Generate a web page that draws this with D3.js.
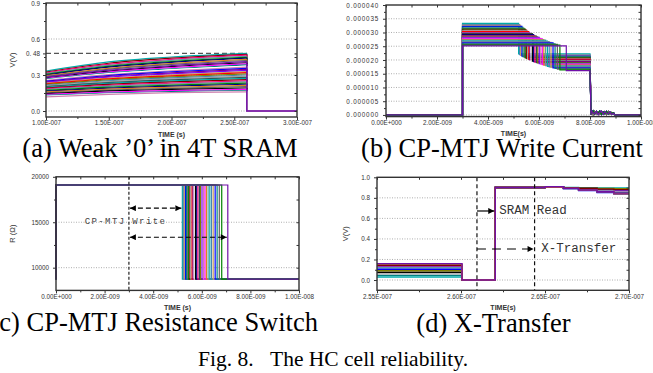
<!DOCTYPE html>
<html>
<head>
<meta charset="utf-8">
<script src="https://cdn.jsdelivr.net/npm/d3@7"></script>
<style>
  body { margin: 0; background: #fff; }
  svg { display: block; }
</style>
</head>
<body>
<div id="chart"></div>
<script>
// ---------- data ----------
const palette = ["#000000","#ff0000","#008000","#0000ff","#00aaaa","#ff00ff","#808000","#000080",
  "#800080","#800000","#008080","#4682b4","#e08020","#8000ff","#ff0080","#ffffff",
  "#a0a0a0","#606060","#c8a060","#5f9ea0","#d080b0","#2f4f4f"];
const lastColor = "#7010a8";

// (a) weak '0' : V at these times, one row per run
const weakTimes = [1.0e-7, 1.5e-7, 2.0e-7, 2.6e-7];
const weakV = [
  [0.333,0.410,0.450,0.480],[0.325,0.398,0.440,0.472],[0.318,0.388,0.430,0.465],
  [0.312,0.380,0.422,0.455],[0.305,0.372,0.412,0.447],[0.300,0.365,0.405,0.440],
  [0.294,0.356,0.396,0.430],[0.288,0.348,0.388,0.421],[0.277,0.333,0.370,0.402],
  [0.271,0.325,0.361,0.392],[0.266,0.318,0.352,0.384],[0.260,0.311,0.344,0.375],
  [0.254,0.303,0.335,0.365],[0.249,0.296,0.327,0.356],[0.243,0.289,0.318,0.347],
  [0.238,0.282,0.310,0.338],[0.232,0.274,0.301,0.328],[0.226,0.267,0.293,0.319],
  [0.221,0.260,0.285,0.310],[0.215,0.252,0.276,0.300],[0.209,0.245,0.268,0.291],
  [0.203,0.237,0.259,0.281],[0.197,0.230,0.251,0.272],[0.191,0.222,0.242,0.262],
  [0.185,0.214,0.233,0.252],[0.179,0.207,0.225,0.243],[0.172,0.199,0.216,0.233],
  [0.166,0.191,0.207,0.223],[0.159,0.183,0.198,0.213],[0.152,0.175,0.189,0.203],
  [0.145,0.167,0.180,0.192],[0.138,0.158,0.170,0.181],[0.131,0.150,0.161,0.171],
  [0.124,0.143,0.154,0.164],[0.117,0.139,0.153,0.160],[0.282,0.340,0.378,0.411]
];
const weakEnd = 3.0e-7;
const weakRef = 0.48;

// (b)/(c) CP-MTJ write, one entry per run
const writeOn = 3.0e-9, writeOff = 8.0e-9, writeStop = 1.0e-8;
const writeSwitch = [5.20,5.24,5.28,5.33,5.37,5.42,5.46,5.51,5.55,5.60,5.64,5.69,5.74,5.79,5.84,
  5.90,5.95,6.01,6.07,6.13,6.19,6.26,6.33,6.40,6.47,6.55,6.63,6.72,6.82,7.07]; // ns
const writePlateau = [33.3,32.9,32.6,32.2,31.9,31.5,31.2,30.9,30.6,30.3,30.0,29.7,29.5,29.2,28.9,
  28.7,28.4,28.2,27.9,27.7,27.4,27.2,26.9,26.7,26.4,26.2,25.9,25.7,25.4,25.1]; // uA
const writeAfter = [22.2,21.9,21.7,21.4,21.2,21.0,20.8,20.6,20.4,20.2,20.0,19.8,19.6,19.4,19.2,
  19.0,18.9,18.7,18.5,18.3,18.1,17.9,17.7,17.5,17.3,17.1,16.9,16.7,16.4,16.1]; // uA
const ringT = [8.05,8.12,8.18,8.25,8.32,8.38,8.45,8.52,8.58,8.65,8.72,8.78,8.85,8.92,8.98]; // ns
const ringV = [
  [1.2,0.2,1.4,0.5,1.1,0.3,1.3,0.6,1.0,0.2,1.2,0.4,0.9,0.3,0],
  [0.6,1.5,0.3,1.2,0.7,1.4,0.2,1.1,0.5,1.3,0.4,1.0,0.6,0.8,0],
  [1.5,0.8,0.4,1.3,0.2,0.9,1.4,0.3,1.2,0.7,0.5,1.1,0.2,0.6,0]
];
const resHigh = 19100, resLow = 8730;

// (d) X-Transfer
const xferStart = 2.55e-7, xferDrop = 2.6006e-7, xferEnd = 2.70e-7;
const xferHold = [0.030,0.150,0.045,0.135,0.060,0.120,0.075,0.105,0.090,0.140,0.155,0.160];
const xferStepT = [2.6204e-7,2.650e-7,2.661e-7,2.670e-7,2.681e-7,2.691e-7];
const xferAfter = [
  [0.900,0.905,0.900,0.898,0.897,0.896],[0.900,0.905,0.898,0.893,0.889,0.885],
  [0.900,0.905,0.896,0.888,0.881,0.875],[0.900,0.905,0.895,0.884,0.874,0.866],
  [0.900,0.905,0.894,0.880,0.868,0.858],[0.900,0.905,0.893,0.877,0.862,0.850],
  [0.900,0.905,0.891,0.873,0.856,0.842],[0.900,0.905,0.890,0.870,0.851,0.836],
  [0.900,0.905,0.899,0.895,0.892,0.890],[0.900,0.905,0.897,0.891,0.885,0.880],
  [0.900,0.905,0.892,0.875,0.859,0.840],[0.900,0.908,0.893,0.876,0.860,0.846]
];
const xferMarks = [2.6095e-7, 2.6438e-7];

// tick labels
const aXTicks = [1.0e-7,1.5e-7,2.0e-7,2.5e-7,3.0e-7];
const aXLabels = ["1.00E-007","1.50E-007","2.00E-007","2.50E-007","3.00E-007"];
const aYTicks = [0, 0.3, 0.48, 0.6, 0.9];
const aYLabels = ["0.0","0.3","0. 48","0.6","0.9"];
const bXTicks = [0,2e-9,4e-9,6e-9,8e-9,1e-8];
const bXLabels = ["0.00E+000","2.00E-009","4.00E-009","6.00E-009","8.00E-009","1.00E-008"];
const bYTicks = [0,5e-6,10e-6,15e-6,20e-6,25e-6,30e-6,35e-6,40e-6];
const bYLabels = ["0.000000","0.000005","0.000010","0.000015","0.000020","0.000025","0.000030","0.000035","0.000040"];
const cYTicks = [10000,15000,20000];
const cYLabels = ["10000","15000","20000"];
const dXTicks = [2.55e-7,2.60e-7,2.65e-7,2.70e-7];
const dXLabels = ["2.55E-007","2.60E-007","2.65E-007","2.70E-007"];
const dYTicks = [0,0.2,0.4,0.6,0.8,1.0];
const dYLabels = ["0.0","0.2","0.4","0.6","0.8","1.0"];

// ---------- drawing ----------
const W = 653, H = 373;
const svg = d3.select("#chart").append("svg").attr("width", W).attr("height", H);
const sans = "'Liberation Sans', Arial, sans-serif";
const serif = "'Liberation Serif', 'Times New Roman', serif";
const mono = "'Liberation Mono', 'Courier New', monospace";

const defs = svg.append("defs");
defs.append("marker").attr("id","head")
  .attr("viewBox","0 0 10 10").attr("refX",10).attr("refY",5)
  .attr("markerWidth",9).attr("markerHeight",6).attr("markerUnits","userSpaceOnUse")
  .attr("orient","auto-start-reverse")
  .append("path").attr("d","M0,0L10,5L0,10Z").attr("fill","#000");

function styleAxis(ax) {
  ax.select(".domain").remove();
  ax.attr("font-size", 6.3).attr("font-family", sans);
  ax.selectAll("line").attr("stroke", "#333").attr("stroke-width", 1);
  ax.selectAll("text").filter(function () { return this.textContent === ""; }).remove();
  ax.selectAll("text").attr("fill", "#333");
}

function panel(c) {
  const g = svg.append("g");
  const x = d3.scaleLinear().domain(c.xDomain).range([c.left, c.right]);
  const y = d3.scaleLinear().domain(c.yDomain).range([c.bottom, c.top]);

  g.append("g").selectAll("line").data(c.grid).join("line")
    .attr("x1", c.left).attr("x2", c.right)
    .attr("y1", d => y(d)).attr("y2", d => y(d))
    .attr("stroke", "#9a9a9a").attr("stroke-width", 0.8).attr("stroke-dasharray", "1,1.5");

  defs.append("clipPath").attr("id", "clip-" + c.name).append("rect")
    .attr("x", c.left - 1).attr("y", c.top - 1)
    .attr("width", c.right - c.left + 2).attr("height", c.bottom - c.top + 2);
  const plot = g.append("g").attr("clip-path", `url(#clip-${c.name})`);
  return { g, x, y, plot, c };
}

function axes(p) {
  const { g, x, y, c } = p;
  g.append("g").attr("transform", `translate(0,${c.bottom})`)
    .call(d3.axisBottom(x).tickValues(c.xTicks).tickFormat((d, i) => c.xLabels[i]).tickSize(3).tickPadding(1))
    .call(styleAxis);
  g.append("g").attr("transform", `translate(0,${c.bottom})`)
    .call(d3.axisBottom(x).tickValues(c.xMinor).tickFormat("").tickSize(2))
    .call(styleAxis);
  const left = g.append("g").attr("transform", `translate(${c.left},0)`)
    .call(d3.axisLeft(y).tickValues(c.yTicks).tickFormat((d, i) => c.yLabels[i]).tickSize(3).tickPadding(c.yPad || 3))
    .call(styleAxis);
  if (c.ySpacing) left.selectAll("text").attr("letter-spacing", c.ySpacing);
  g.append("g").attr("transform", `translate(${c.left},0)`)
    .call(d3.axisLeft(y).tickValues(c.yMinor).tickFormat("").tickSize(2))
    .call(styleAxis);
  g.append("g").attr("transform", `translate(0,${c.top})`)
    .call(d3.axisTop(x).tickValues(c.xTicks.concat(c.xMinor)).tickFormat("").tickSize(-2.5))
    .call(styleAxis);
  g.append("g").attr("transform", `translate(${c.right},0)`)
    .call(d3.axisRight(y).tickValues(c.yTicks.concat(c.yMinor)).tickFormat("").tickSize(-2.5))
    .call(styleAxis);
  g.append("rect")
    .attr("x", c.left).attr("y", c.top)
    .attr("width", c.right - c.left).attr("height", c.bottom - c.top)
    .attr("fill", "none").attr("stroke", "#333").attr("stroke-width", 1.4);

  g.append("text").attr("x", (c.left + c.right) / 2).attr("y", c.bottom + 19.5)
    .attr("text-anchor", "middle").attr("font-family", sans).attr("font-size", 7)
    .attr("font-weight", "bold").attr("fill", "#333").text(c.xTitle);
  if (c.yTitle) {
    g.append("text").attr("transform", `translate(${c.yTitleX},${(c.top + c.bottom) / 2}) rotate(-90)`)
      .attr("text-anchor", "middle").attr("dominant-baseline", "central")
      .attr("font-family", sans).attr("font-size", 7.5).attr("fill", "#333").text(c.yTitle);
  }
}

const color = (i, n, k) => i === n - 1 ? lastColor : palette[(i * k + 4) % palette.length];

// ---- (a) Weak '0' in 4T SRAM
const pa = panel({
  name: "a", left: 46, right: 297, top: 3, bottom: 117,
  xDomain: [1.0e-7, 3.0e-7], yDomain: [-0.05, 0.9], grid: [0, 0.3, 0.6],
  xTicks: aXTicks, xLabels: aXLabels, xMinor: [1.25e-7,1.75e-7,2.25e-7,2.75e-7],
  yTicks: aYTicks, yLabels: aYLabels, yMinor: [0.15, 0.45, 0.75],
  xTitle: "TIME (s)", yTitle: "V(V)", yTitleX: 12
});
pa.g.insert("line", "g")
  .attr("x1", pa.x(1.0e-7)).attr("x2", pa.x(weakTimes[3]))
  .attr("y1", pa.y(weakRef)).attr("y2", pa.y(weakRef))
  .attr("stroke", "#555").attr("stroke-width", 1.2).attr("stroke-dasharray", "5,3");
const riseLine = d3.line().x((d, i) => pa.x(weakTimes[i])).y(d => pa.y(d)).curve(d3.curveMonotoneX);
weakV.forEach((row, i) => {
  const col = color(i, weakV.length, 5);
  pa.plot.append("path").attr("d", riseLine(row))
    .attr("fill", "none").attr("stroke", col).attr("stroke-width", 1.2);
  pa.plot.append("path")
    .attr("d", d3.line()([[pa.x(weakTimes[3]), pa.y(row[3])], [pa.x(weakTimes[3]), pa.y(0)], [pa.x(weakEnd), pa.y(0)]]))
    .attr("fill", "none").attr("stroke", col).attr("stroke-width", 1.4);
});
axes(pa);

// ---- (b) CP-MTJ Write Current
const pb = panel({
  name: "b", left: 386, right: 641, top: 5, bottom: 116.6,
  xDomain: [0, 1e-8], yDomain: [-0.6e-6, 40e-6], grid: d3.range(0, 36e-6, 5e-6),
  xTicks: bXTicks, xLabels: bXLabels, xMinor: [1e-9,3e-9,5e-9,7e-9,9e-9],
  yTicks: bYTicks, yLabels: bYLabels, yMinor: d3.range(2.5e-6, 40e-6, 5e-6),
  yPad: 4, ySpacing: 0.8, xTitle: "TIME(s)"
});
const lineB = d3.line().x(d => pb.x(d[0])).y(d => pb.y(d[1]));
writeSwitch.forEach((ts, i) => {
  const ip = writePlateau[i] * 1e-6, ia = writeAfter[i] * 1e-6, t = ts * 1e-9;
  const ring = ringT.map((rt, k) => [rt * 1e-9, ringV[i % 3][k] * 1e-6]);
  const pts = [[0, 0], [writeOn, 0], [writeOn, ip], [t, ip], [t, ia], [writeOff, ia], [writeOff + 0.04e-9, 0]]
    .concat(ring, [[writeStop, 0]]);
  pb.plot.append("path").attr("d", lineB(pts))
    .attr("fill", "none").attr("stroke", color(i, writeSwitch.length, 7)).attr("stroke-width", 1.2);
});
axes(pb);

// ---- (c) CP-MTJ Resistance Switch
const pc = panel({
  name: "c", left: 56, right: 299, top: 176.8, bottom: 290.4,
  xDomain: [0, 1e-8], yDomain: [7500, 20000], grid: [10000, 15000],
  xTicks: bXTicks, xLabels: bXLabels, xMinor: [1e-9,3e-9,5e-9,7e-9,9e-9],
  yTicks: cYTicks, yLabels: cYLabels, yMinor: [12500, 17500],
  yPad: 4, xTitle: "TIME (s)", yTitle: "R (\u03A9)", yTitleX: 12
});
const lineC = d3.line().x(d => pc.x(d[0])).y(d => pc.y(d[1])).curve(d3.curveStepAfter);
writeSwitch.forEach((ts, i) => {
  const pts = [[0, resLow], [0, resHigh], [ts * 1e-9, resLow], [writeStop, resLow]];
  pc.plot.append("path").attr("d", lineC(pts))
    .attr("fill", "none").attr("stroke", color(i, writeSwitch.length, 7)).attr("stroke-width", 1.2);
});
pc.g.append("line")
  .attr("x1", pc.x(writeOn)).attr("x2", pc.x(writeOn)).attr("y1", pc.c.top).attr("y2", pc.c.bottom)
  .attr("stroke", "#222").attr("stroke-width", 1.2).attr("stroke-dasharray", "3,2");
[[16550, d3.min(writeSwitch)], [13350, d3.max(writeSwitch)]].forEach(([r, ts]) => {
  pc.g.append("line")
    .attr("x1", pc.x(writeOn) + 1).attr("x2", pc.x(ts * 1e-9) - 1)
    .attr("y1", pc.y(r)).attr("y2", pc.y(r))
    .attr("stroke", "#000").attr("stroke-width", 1.2).attr("stroke-dasharray", "5,3")
    .attr("marker-start", "url(#head)").attr("marker-end", "url(#head)");
});
pc.g.append("text").attr("x", pc.x(2.86e-9)).attr("y", pc.y(15000))
  .attr("text-anchor", "middle").attr("dominant-baseline", "central")
  .attr("font-family", mono).attr("font-size", 9).attr("letter-spacing", 1.4)
  .attr("fill", "#444").text("CP-MTJ Write");
axes(pc);

// ---- (d) X-Transfer
const pd = panel({
  name: "d", left: 377, right: 629, top: 177.3, bottom: 290.3,
  xDomain: [2.55e-7, 2.70e-7], yDomain: [-0.1, 1.0], grid: [0, 0.2, 0.4, 0.6, 0.8],
  xTicks: dXTicks, xLabels: dXLabels, xMinor: [2.575e-7, 2.625e-7, 2.675e-7],
  yTicks: dYTicks, yLabels: dYLabels, yMinor: [0.1, 0.3, 0.5, 0.7, 0.9],
  yPad: 4, xTitle: "TIME(s)", yTitle: "V(V)", yTitleX: 345
});
const lineD = d3.line().x(d => pd.x(d[0])).y(d => pd.y(d[1])).curve(d3.curveStepAfter);
xferHold.forEach((h, i) => {
  const after = xferAfter[i];
  const pts = [[xferStart, h], [xferDrop, 0]]
    .concat(xferStepT.map((t, k) => [t, after[k]]), [[xferEnd, after[after.length - 1]]]);
  pd.plot.append("path").attr("d", lineD(pts))
    .attr("fill", "none").attr("stroke", color(i, xferHold.length, 3)).attr("stroke-width", 1.4);
});
xferMarks.forEach(t => {
  pd.g.append("line")
    .attr("x1", pd.x(t)).attr("x2", pd.x(t)).attr("y1", pd.c.top).attr("y2", pd.c.bottom)
    .attr("stroke", "#111").attr("stroke-width", 1.2).attr("stroke-dasharray", "4,3");
});
pd.g.append("line")
  .attr("x1", pd.x(xferMarks[0])).attr("x2", pd.x(xferStepT[0]) - 1)
  .attr("y1", pd.y(0.672)).attr("y2", pd.y(0.672))
  .attr("stroke", "#000").attr("stroke-width", 1.2).attr("marker-end", "url(#head)");
pd.g.append("line")
  .attr("x1", pd.x(xferMarks[0])).attr("x2", pd.x(xferMarks[1]) - 1)
  .attr("y1", pd.y(0.302)).attr("y2", pd.y(0.302))
  .attr("stroke", "#000").attr("stroke-width", 1.2).attr("stroke-dasharray", "9,6")
  .attr("marker-end", "url(#head)");
pd.g.append("text").attr("x", pd.x(2.6228e-7)).attr("y", pd.y(0.672))
  .attr("dominant-baseline", "central").attr("font-family", mono).attr("font-size", 12.5)
  .attr("fill", "#333").text("SRAM Read");
pd.g.append("text").attr("x", pd.x(2.6478e-7)).attr("y", pd.y(0.302))
  .attr("dominant-baseline", "central").attr("font-family", mono).attr("font-size", 12.5)
  .attr("fill", "#333").text("X-Transfer");
axes(pd);

// ---- captions
const caps = [
  { text: "(a) Weak \u20190\u2019 in 4T SRAM", x: 160, y: 157, anchor: "middle" },
  { text: "(b) CP-MTJ Write Current", x: 502, y: 157, anchor: "middle" },
  { text: "(c) CP-MTJ Resistance Switch", x: 318, y: 331, anchor: "end" },
  { text: "(d) X-Transfer", x: 493.5, y: 332, anchor: "middle" }
];
caps.forEach(d => {
  svg.append("text").attr("x", d.x).attr("y", d.y).attr("text-anchor", d.anchor)
    .attr("font-family", serif).attr("font-size", 26.5).attr("fill", "#000").text(d.text);
});
const fig = svg.append("text").attr("y", 366).attr("font-family", serif).attr("font-size", 21.5).attr("fill", "#000");
fig.append("tspan").attr("x", 198).text("Fig. 8.");
fig.append("tspan").attr("x", 270).text("The HC cell reliability.");
</script>
</body>
</html>
